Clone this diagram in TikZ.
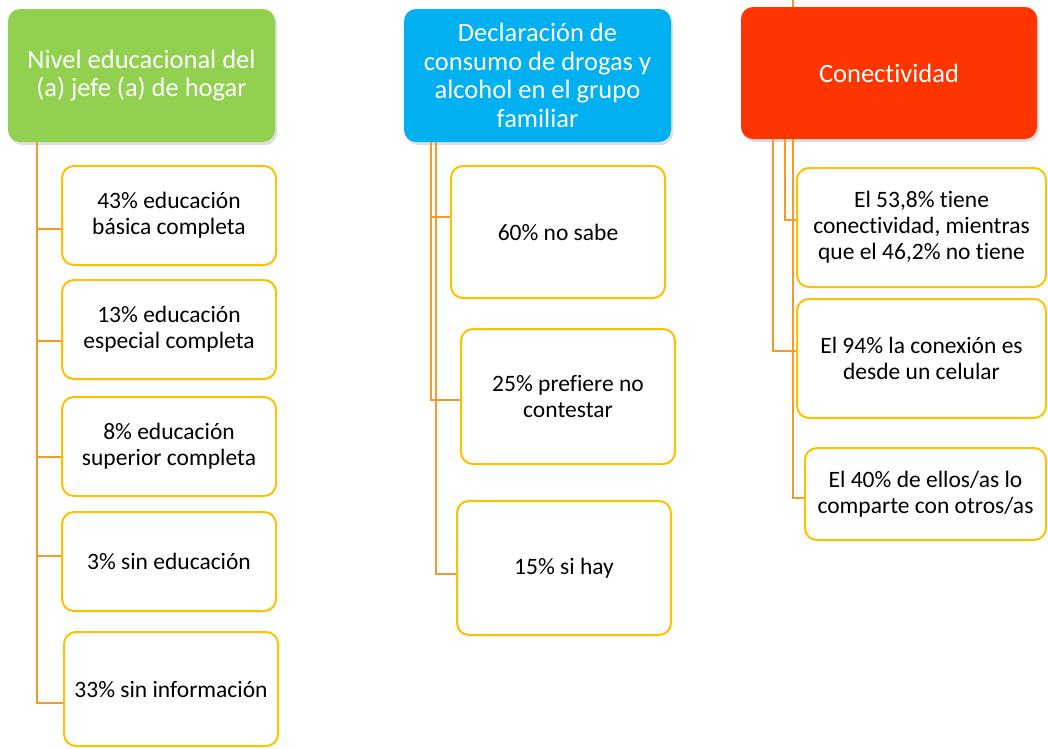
\documentclass[tikz,border=0pt]{standalone}
\usepackage{fontspec}
\setmainfont{Carlito}[Ligatures={NoCommon}]
\usetikzlibrary{calc,shadows}
\definecolor{cgreen}{HTML}{92D050}
\definecolor{cblue}{HTML}{00B0F0}
\definecolor{cred}{HTML}{FF3500}
\definecolor{corange}{HTML}{F39A2B}
\definecolor{cyellow}{HTML}{FFC000}
\tikzset{
  titlebox/.style={rounded corners=12pt, inner sep=0pt, text=white, align=center,
    font=\fontsize{26.5}{28.5}\selectfont,
    drop shadow={opacity=0.25, shadow xshift=2pt, shadow yshift=-3pt}},
  itembox/.style={draw=cyellow, line width=2pt, rounded corners=12pt, fill=white,
    inner sep=0pt, align=center, text=black, font=\fontsize{23.5}{26}\selectfont},
  link/.style={draw=corange, line width=2pt}
}
\begin{document}
\begin{tikzpicture}[x=1pt,y=-1pt]
\useasboundingbox (0,0) rectangle (1048,748);
% title boxes
\node[titlebox, fill=cgreen, minimum width=267pt, minimum height=133pt] (green) at (141.5,75.5)
  {Nivel educacional del\\(a) jefe (a) de hogar};
\node[titlebox, fill=cblue, minimum width=267pt, minimum height=133pt] (blue) at (537.5,75.5)
  {Declaración de\\consumo de drogas y\\alcohol en el grupo\\familiar};
\node[titlebox, fill=cred, minimum width=296pt, minimum height=132pt] (red) at (889,73)
  {Conectividad};
% left column
\node[itembox, minimum width=214pt, minimum height=99pt] (L1) at (169,215.5) {43\% educación\\básica completa};
\node[itembox, minimum width=214pt, minimum height=99pt] (L2) at (169,329.5) {13\% educación\\especial completa};
\node[itembox, minimum width=214pt, minimum height=99pt] (L3) at (169,446.5) {8\% educación\\superior completa};
\node[itembox, minimum width=214pt, minimum height=99pt] (L4) at (169,561.5) {3\% sin educación};
\node[itembox, minimum width=214pt, minimum height=114pt] (L5) at (171,689) {33\% sin información};
% middle column
\node[itembox, minimum width=214pt, minimum height=132pt] (M1) at (558,232) {60\% no sabe};
\node[itembox, minimum width=214pt, minimum height=135pt] (M2) at (568,396.5) {25\% prefiere no\\contestar};
\node[itembox, minimum width=214pt, minimum height=134pt] (M3) at (564,568) {15\% si hay};
% right column
\node[itembox, minimum width=249pt, minimum height=119pt] (R1) at (921.5,227.5) {El 53,8\% tiene\\conectividad, mientras\\que el 46,2\% no tiene};
\node[itembox, minimum width=249pt, minimum height=119pt] (R2) at (921.5,358.5) {El 94\% la conexión es\\desde un celular};
\node[itembox, minimum width=241pt, minimum height=92pt] (R3) at (925.5,494) {El 40\% de ellos/as lo\\comparte con otros/as};
% connectors left
\coordinate (gx) at ($(green.south west)+(29,0)$);
\draw[link] (gx) |- ($(L1.west)+(0,13.5)$);
\draw[link] (gx) |- ($(L2.west)+(0,11.5)$);
\draw[link] (gx) |- ($(L3.west)+(0,10.5)$);
\draw[link] (gx) |- ($(L4.west)+(0,-5.5)$);
\draw[link] (gx) |- ($(L5.west)+(0,14)$);
% connectors middle
\coordinate (bx1) at ($(blue.south west)+(27,0)$);
\coordinate (bx2) at ($(blue.south west)+(32,0)$);
\draw[link] (bx1) |- ($(M1.west)+(0,-15)$);
\draw[link] (bx1) |- ($(M2.west)+(0,3.5)$);
\draw[link] (bx2) |- ($(M3.west)+(0,6)$);
% connectors right
\coordinate (rx1) at ($(red.south west)+(32,0)$);
\coordinate (rx2) at ($(red.south west)+(44,0)$);
\coordinate (rx3) at ($(red.south west)+(52,0)$);
\draw[link] (rx2) |- ($(R1.west)+(0,-7.5)$);
\draw[link] (rx1) |- ($(R2.west)+(0,-7.5)$);
\draw[link] (rx3) |- ($(R3.west)+(0,4)$);
\coordinate (rtop) at ($(red.north west)+(52,-8)$);
\draw[link] ($(red.north west)+(52,0)$) -- (rtop);
\end{tikzpicture}
\end{document}
